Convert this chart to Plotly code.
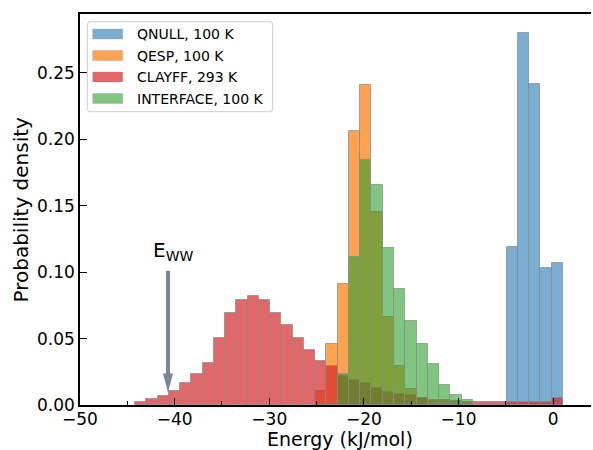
import numpy as np
import plotly.graph_objects as go

# Histogram grid shared by all four runs (kJ/mol)
BIN_LEFT = -44.19
BIN_WIDTH = 1.19

# Probability densities per bin; each list starts at the given bin index
qnull_start = 33
qnull = [0.1188, 0.2800, 0.2418, 0.1030, 0.1071]

qesp_start = 16
qesp = [0.0102, 0.0458, 0.0913, 0.2062, 0.2413, 0.1450, 0.0666, 0.0290, 0.0122, 0.0050]

clayff_start = 0
clayff = [0.0021, 0.0047, 0.0066, 0.0107, 0.0167, 0.0235, 0.0320, 0.0506, 0.0691, 0.0792,
          0.0822, 0.0792, 0.0689, 0.0604, 0.0503, 0.0416, 0.0333, 0.0292, 0.0220, 0.0192,
          0.0164, 0.0129, 0.0097, 0.0084, 0.0072, 0.0052, 0.0041, 0.0034, 0.0028, 0.0025,
          0.0025, 0.0022, 0.0022, 0.0020, 0.0020, 0.0020, 0.0022, 0.0050]

interface_start = 18
interface = [0.0230, 0.1118, 0.1841, 0.1658, 0.1184, 0.0875, 0.0636, 0.0461, 0.0305, 0.0147,
             0.0072, 0.0040]

series_names = ["QNULL, 100 K", "QESP, 100 K", "CLAYFF, 293 K", "INTERFACE, 100 K"]
series_colors = ["rgba(31,119,180,0.6)", "rgba(255,127,14,0.72)",
                 "rgba(214,39,40,0.7)", "rgba(44,160,44,0.6)"]

# Water-water binding energy marker
E_WW = -40.7
E_WW_TIP = 0.0094
E_WW_TAIL = 0.101

x_ticks = [-50, -40, -30, -20, -10, 0]
y_ticks = [0.00, 0.05, 0.10, 0.15, 0.20, 0.25]

FONT = "DejaVu Sans"
L, R, T, B = 80, 2, 14, 45
W, H = 593, 450
PW, PH = W - L - R, H - T - B
X_RANGE = [-50, 4.0]
Y_RANGE = [0, 0.2944]


def bin_centers(start, values):
    idx = np.arange(start, start + len(values))
    return BIN_LEFT + (idx + 0.5) * BIN_WIDTH


fig = go.Figure()
for name, start, vals, col in zip(series_names,
                                  [qnull_start, qesp_start, clayff_start, interface_start],
                                  [qnull, qesp, clayff, interface], series_colors):
    fig.add_trace(go.Bar(
        x=bin_centers(start, vals), y=vals, width=BIN_WIDTH, name=name,
        marker=dict(color=col, line=dict(color="rgba(140,140,140,0.75)", width=1)),
        showlegend=False,
    ))

shapes = []
annotations = []

# E_WW arrow: shaft plus a slender head
head_len = 19 / PH * (Y_RANGE[1] - Y_RANGE[0])
head_half = 5 / PW * (X_RANGE[1] - X_RANGE[0])
shapes.append(dict(type="line", xref="x", yref="y", x0=E_WW, x1=E_WW,
                   y0=E_WW_TAIL, y1=E_WW_TIP + head_len * 0.9,
                   line=dict(color="#778899", width=4)))
shapes.append(dict(type="path", xref="x", yref="y",
                   path=f"M {E_WW - head_half} {E_WW_TIP + head_len} L {E_WW + head_half} {E_WW_TIP + head_len} L {E_WW} {E_WW_TIP} Z",
                   fillcolor="#778899", line=dict(color="#778899", width=0)))
annotations.append(dict(x=E_WW + 0.5, y=E_WW_TAIL + 0.004, xref="x", yref="y",
                        text="E<sub>WW</sub>", showarrow=False, xanchor="center",
                        yanchor="bottom", font=dict(family=FONT, size=20, color="black")))


# Legend box drawn in paper coordinates
def px_x(p):
    return (p - L) / PW


def px_y(p):
    return (H - B - p) / PH


bx0, bx1, by0, by1 = 87.3, 272.7, 21.7, 111.7
r = 3.0
path = (f"M {px_x(bx0 + r)} {px_y(by0)} L {px_x(bx1 - r)} {px_y(by0)} "
        f"Q {px_x(bx1)} {px_y(by0)} {px_x(bx1)} {px_y(by0 + r)} "
        f"L {px_x(bx1)} {px_y(by1 - r)} Q {px_x(bx1)} {px_y(by1)} {px_x(bx1 - r)} {px_y(by1)} "
        f"L {px_x(bx0 + r)} {px_y(by1)} Q {px_x(bx0)} {px_y(by1)} {px_x(bx0)} {px_y(by1 - r)} "
        f"L {px_x(bx0)} {px_y(by0 + r)} Q {px_x(bx0)} {px_y(by0)} {px_x(bx0 + r)} {px_y(by0)} Z")
shapes.append(dict(type="path", xref="paper", yref="paper", path=path,
                   fillcolor="rgba(255,255,255,0.8)", line=dict(color="#cccccc", width=1)))
row_y = [34.0, 55.5, 77.0, 98.5]
for name, col, yc in zip(series_names, series_colors, row_y):
    shapes.append(dict(type="rect", xref="paper", yref="paper",
                       x0=px_x(92.7), x1=px_x(122.7), y0=px_y(yc + 5), y1=px_y(yc - 5),
                       fillcolor=col, line=dict(color="rgba(140,140,140,0.5)", width=0.6)))
    annotations.append(dict(x=px_x(135), y=px_y(yc), xref="paper", yref="paper",
                            text=name, showarrow=False, xanchor="left", yanchor="middle",
                            font=dict(family=FONT, size=14, color="black")))

# Axis titles
annotations.append(dict(x=px_x(340), y=px_y(438.5), xref="paper", yref="paper",
                        text="Energy (kJ/mol)", showarrow=False, xanchor="center",
                        yanchor="middle", font=dict(family=FONT, size=19, color="black")))
annotations.append(dict(x=px_x(20), y=0.5, xref="paper", yref="paper",
                        text="Probability density", showarrow=False, textangle=-90,
                        xanchor="center", yanchor="middle",
                        font=dict(family=FONT, size=20, color="black")))

fig.update_layout(
    width=W, height=H, margin=dict(l=L, r=R, t=T, b=B),
    paper_bgcolor="white", plot_bgcolor="white",
    barmode="overlay", bargap=0,
    shapes=shapes, annotations=annotations,
    font=dict(family=FONT, size=17, color="black"),
    xaxis=dict(range=X_RANGE, tickvals=x_ticks, ticks="inside", ticklen=7, tickwidth=1.4,
               tickcolor="black", showline=True, linecolor="black", linewidth=1.6,
               mirror=True, showgrid=False, zeroline=False, ticklabelstandoff=-2,
               minor=dict(dtick=5, tick0=-50, ticks="inside", ticklen=4, tickwidth=1.2,
                          tickcolor="black", showgrid=False),
               tickfont=dict(family=FONT, size=17)),
    yaxis=dict(range=Y_RANGE, tickvals=y_ticks, tickformat=".2f", ticks="inside",
               ticklen=7, tickwidth=1.4, tickcolor="black", showline=True,
               linecolor="black", linewidth=1.6, mirror=False, showgrid=False,
               zeroline=False, tickfont=dict(family=FONT, size=17)),
)

fig.write_html("out.html")
